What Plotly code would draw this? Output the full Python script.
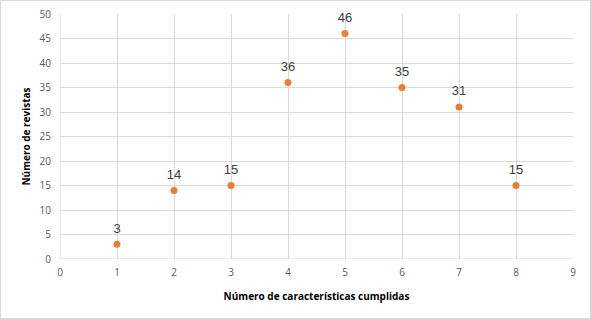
import plotly.graph_objects as go

caracteristicas = [1, 2, 3, 4, 5, 6, 7, 8]
revistas = [3, 14, 15, 36, 46, 35, 31, 15]

W, H = 591, 319
L, R, T, B = 60, 18, 14, 60
pw, ph = W - L - R, H - T - B

fig = go.Figure()
fig.add_trace(go.Scatter(
    x=caracteristicas, y=revistas, mode="markers",
    marker=dict(color="#ED7D31", size=7), cliponaxis=False, hoverinfo="skip",
))
fig.add_trace(go.Scatter(
    x=caracteristicas, y=revistas, mode="markers+text",
    text=[str(v) for v in revistas], textposition="top center",
    textfont=dict(family="Liberation Sans, Arial", size=13, color="#404040"),
    marker=dict(color="#ED7D31", size=12, opacity=0), cliponaxis=False,
))

tickfont = dict(family="Open Sans, Liberation Sans, Arial", size=10, color="#595959")
fig.update_layout(
    template="none",
    width=W, height=H, margin=dict(l=L, r=R, t=T, b=B, autoexpand=False),
    paper_bgcolor="white", plot_bgcolor="white", showlegend=False,
    font=dict(family="Open Sans, Liberation Sans, Arial", size=10, color="#595959"),
    xaxis=dict(range=[0, 9], dtick=1, showgrid=True, gridcolor="#D9D9D9", gridwidth=1,
               zeroline=False, showline=False, ticks="", automargin=False,
               tickfont=tickfont, ticklabelstandoff=6,
               title=dict(text="<b>Número de características cumplidas</b>",
                          font=dict(family="Open Sans, Liberation Sans, Arial", size=10, color="#000000"),
                          standoff=14)),
    yaxis=dict(range=[0, 50], dtick=5, showgrid=True, gridcolor="#D9D9D9", gridwidth=1,
               zeroline=False, showline=False, ticks="", automargin=False,
               tickfont=tickfont, ticklabelstandoff=8,
               title=dict(text="<b>Número de revistas</b>",
                          font=dict(family="Open Sans, Liberation Sans, Arial", size=10, color="#000000"),
                          standoff=7)),
    shapes=[
        dict(type="rect", xref="paper", yref="paper",
             x0=(0.5 - L) / pw, x1=(W - 0.5 - L) / pw,
             y0=-(B - 0.5) / ph, y1=1 + (T - 0.5) / ph,
             line=dict(color="#D9D9D9", width=1), layer="below"),
        dict(type="line", xref="x", yref="y", x0=0, x1=0, y0=0, y1=50,
             line=dict(color="#D9D9D9", width=1), layer="below"),
        dict(type="line", xref="x", yref="y", x0=0, x1=9, y0=0, y1=0,
             line=dict(color="#D9D9D9", width=1), layer="below"),
    ],
)

fig.write_html("out.html", config={"displayModeBar": False},
               post_script="document.body.style.margin='0px';")
